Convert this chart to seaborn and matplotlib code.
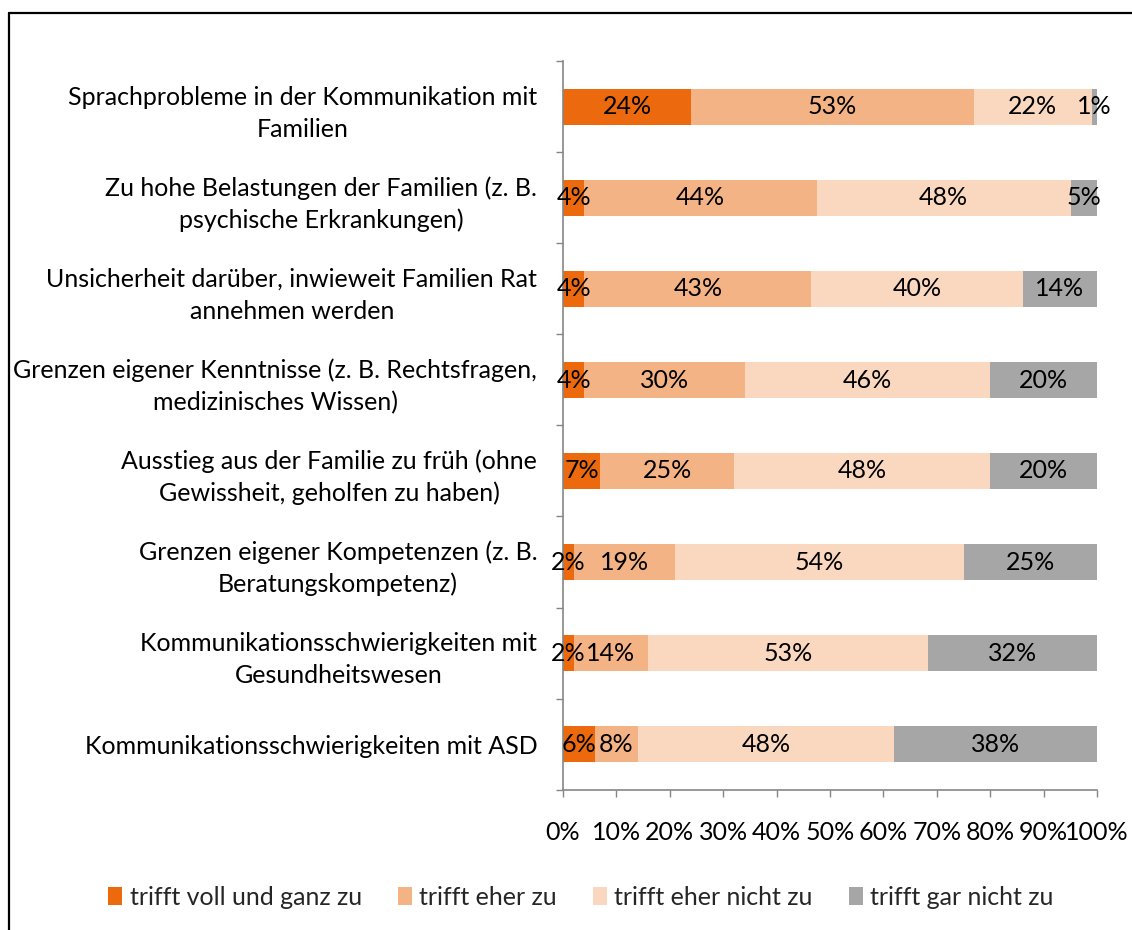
import numpy as np
import pandas as pd
import matplotlib
matplotlib.use("Agg")
import matplotlib.pyplot as plt
from matplotlib.lines import Line2D
from matplotlib.patches import Patch
from matplotlib.ticker import FixedLocator, PercentFormatter
import seaborn as sns

categories = [
    "Sprachprobleme in der Kommunikation mit\nFamilien",
    "Zu hohe Belastungen der Familien (z. B.\npsychische Erkrankungen)",
    "Unsicherheit darüber, inwieweit Familien Rat\nannehmen werden",
    "Grenzen eigener Kenntnisse (z. B. Rechtsfragen,\nmedizinisches Wissen)",
    "Ausstieg aus der Familie zu früh (ohne\nGewissheit, geholfen zu haben)",
    "Grenzen eigener Kompetenzen (z. B.\nBeratungskompetenz)",
    "Kommunikationsschwierigkeiten mit\nGesundheitswesen",
    "Kommunikationsschwierigkeiten mit ASD",
]
series_names = [
    "trifft voll und ganz zu",
    "trifft eher zu",
    "trifft eher nicht zu",
    "trifft gar nicht zu",
]
voll_zu = [24, 4, 4, 4, 7, 2, 2, 6]
eher_zu = [53, 44, 43, 30, 25, 19, 14, 8]
eher_nicht = [22, 48, 40, 46, 48, 54, 53, 48]
gar_nicht = [1, 5, 14, 20, 20, 25, 32, 38]
colors = ["#EC6A0D", "#F4B384", "#F9D8BF", "#A6A6A6"]

sns.set_theme(style="white")
plt.rcParams["font.family"] = ["Lato", "DejaVu Sans"]

values = np.array([voll_zu, eher_zu, eher_nicht, gar_nicht], dtype=float)
shares = values / values.sum(axis=0) * 100  # 100 % stacked
cum = np.cumsum(shares, axis=0)

df = pd.DataFrame({"Kategorie": categories})
for i, name in enumerate(series_names):
    df[name] = cum[i]

fig = plt.figure(figsize=(11.32, 9.30), dpi=100)
ax = fig.add_axes([563 / 1132, 1 - 789.5 / 930, (1097 - 563) / 1132, (789.5 - 61.5) / 930])

# draw cumulative totals from the outermost segment inwards
for i in range(len(series_names) - 1, -1, -1):
    sns.barplot(data=df, x=series_names[i], y="Kategorie", orient="y",
                color=colors[i], saturation=1, width=0.4, ax=ax,
                linewidth=0, edgecolor="none")

# value labels in the middle of each segment
fs = 18
for i in range(len(series_names)):
    starts = cum[i] - shares[i]
    for j in range(len(categories)):
        ax.text(starts[j] + shares[i, j] / 2, j, f"{int(values[i, j])}%",
                ha="center", va="center", fontsize=fs, color="black")

ax.set_xlim(0, 100)
ax.set_ylim(len(categories) - 0.5, -0.5)
ax.set_xlabel("")
ax.set_ylabel("")
ax.xaxis.set_major_locator(FixedLocator(np.arange(0, 101, 10)))
ax.xaxis.set_major_formatter(PercentFormatter(decimals=0))
ax.yaxis.set_minor_locator(FixedLocator(np.arange(-0.5, len(categories), 1)))

axis_grey = "#868686"
for side in ["top", "right"]:
    ax.spines[side].set_visible(False)
for side in ["left", "bottom"]:
    ax.spines[side].set_color(axis_grey)
    ax.spines[side].set_linewidth(1.2)

ax.tick_params(axis="x", which="major", bottom=True, length=5, width=1, color=axis_grey,
               pad=17.5, labelsize=fs, labelcolor="black")
ax.tick_params(axis="y", which="major", left=False, length=0, pad=18.5,
               labelsize=fs, labelcolor="black")
ax.tick_params(axis="y", which="minor", left=True, length=5, width=1, color=axis_grey)
for lab in ax.get_yticklabels():
    lab.set_multialignment("center")
    lab.set_linespacing(1.45)

handles = [Patch(facecolor=c, edgecolor="none") for c in colors]
fig.legend(handles, series_names, loc="center", bbox_to_anchor=(581 / 1132, 1 - 897 / 930),
           ncol=4, frameon=False, fontsize=fs, handlelength=0.55, handleheight=0.75,
           handletextpad=0.3, columnspacing=1.45)

# chart frame
fig.add_artist(Line2D([8.5 / 1132, 8.5 / 1132], [0, 1 - 13 / 930], transform=fig.transFigure,
                      color="black", linewidth=1.6))
fig.add_artist(Line2D([8.5 / 1132, 1], [1 - 13 / 930, 1 - 13 / 930], transform=fig.transFigure,
                      color="black", linewidth=1.6))

fig.savefig("out.png", dpi=100, facecolor="white")
